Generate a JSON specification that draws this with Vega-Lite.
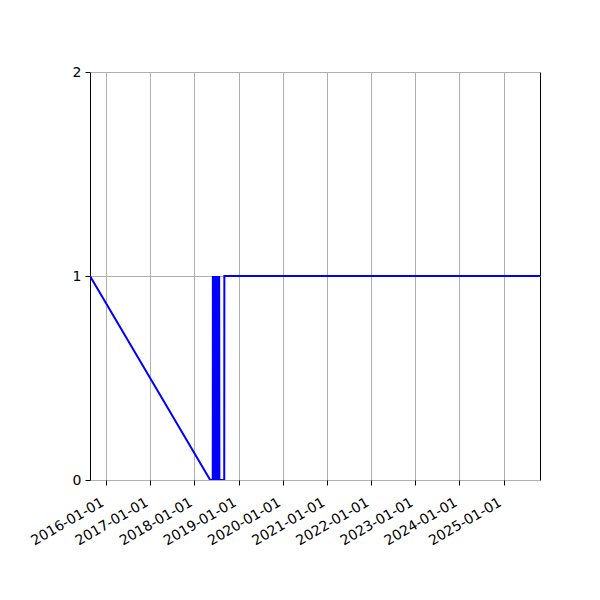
{
  "$schema": "https://vega.github.io/schema/vega-lite/v6.json",
  "width": 450,
  "height": 408,
  "autosize": {"type": "none"},
  "padding": {"left": 90, "top": 72, "right": 60, "bottom": 120},
  "background": "white",
  "data": {
    "values": [
      {"date": "2015-08-22", "value": 1},
      {"date": "2018-05-12", "value": 0},
      {"date": "2018-06-02", "value": 0},
      {"date": "2018-06-03", "value": 1},
      {"date": "2018-06-05", "value": 0},
      {"date": "2018-06-07", "value": 1},
      {"date": "2018-06-09", "value": 0},
      {"date": "2018-06-11", "value": 1},
      {"date": "2018-06-13", "value": 0},
      {"date": "2018-06-15", "value": 1},
      {"date": "2018-06-17", "value": 0},
      {"date": "2018-06-19", "value": 1},
      {"date": "2018-06-21", "value": 0},
      {"date": "2018-06-23", "value": 1},
      {"date": "2018-06-25", "value": 0},
      {"date": "2018-06-27", "value": 1},
      {"date": "2018-06-29", "value": 0},
      {"date": "2018-07-01", "value": 1},
      {"date": "2018-07-03", "value": 0},
      {"date": "2018-07-05", "value": 1},
      {"date": "2018-07-07", "value": 0},
      {"date": "2018-07-09", "value": 1},
      {"date": "2018-07-11", "value": 0},
      {"date": "2018-07-13", "value": 1},
      {"date": "2018-07-15", "value": 0},
      {"date": "2018-07-17", "value": 1},
      {"date": "2018-07-19", "value": 0},
      {"date": "2018-07-21", "value": 1},
      {"date": "2018-07-23", "value": 0},
      {"date": "2018-07-25", "value": 1},
      {"date": "2018-07-27", "value": 0},
      {"date": "2018-09-05", "value": 0},
      {"date": "2018-09-06", "value": 1},
      {"date": "2025-10-29", "value": 1}
    ]
  },
  "mark": {"type": "line", "color": "#0000ff", "strokeWidth": 2, "clip": true},
  "encoding": {
    "x": {
      "field": "date",
      "type": "temporal",
      "scale": {
        "type": "utc",
        "domain": [
          {"year": 2015, "month": 8, "date": 22, "utc": true},
          {"year": 2025, "month": 10, "date": 29, "utc": true}
        ],
        "nice": false
      },
      "title": null,
      "axis": {
        "values": [
          {"year": 2016, "month": 1, "date": 1, "utc": true},
          {"year": 2017, "month": 1, "date": 1, "utc": true},
          {"year": 2018, "month": 1, "date": 1, "utc": true},
          {"year": 2019, "month": 1, "date": 1, "utc": true},
          {"year": 2020, "month": 1, "date": 1, "utc": true},
          {"year": 2021, "month": 1, "date": 1, "utc": true},
          {"year": 2022, "month": 1, "date": 1, "utc": true},
          {"year": 2023, "month": 1, "date": 1, "utc": true},
          {"year": 2024, "month": 1, "date": 1, "utc": true},
          {"year": 2025, "month": 1, "date": 1, "utc": true}
        ],
        "labelExpr": "utcFormat(datum.value, '%Y-%m-%d')",
        "labelAngle": -30,
        "labelAlign": "right",
        "labelBaseline": "top",
        "labelPadding": 10,
        "labelOffset": -7,
        "grid": true
      }
    },
    "y": {
      "field": "value",
      "type": "quantitative",
      "scale": {"domain": [0, 2], "nice": false, "zero": false},
      "title": null,
      "axis": {
        "values": [0, 1, 2],
        "labelExpr": "format(datum.value, 'd')",
        "grid": true,
        "labelPadding": 4
      }
    }
  },
  "config": {
    "view": {"stroke": "black", "strokeWidth": 1},
    "axis": {
      "labelFont": "DejaVu Sans",
      "labelFontSize": 14,
      "labelColor": "black",
      "labelFontWeight": "normal",
      "domain": false,
      "tickColor": "black",
      "tickSize": 5,
      "tickWidth": 1,
      "gridColor": "#b0b0b0",
      "gridWidth": 1,
      "gridOpacity": 1,
      "labelOverlap": false,
      "labelFlush": false
    }
  }
}
